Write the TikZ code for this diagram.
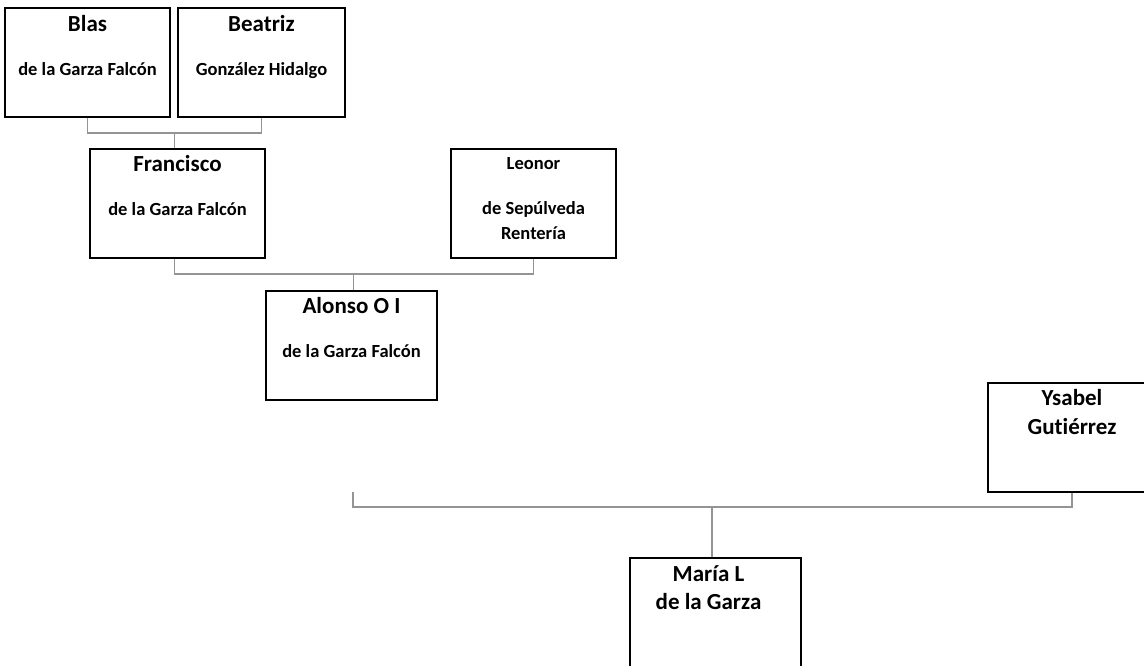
\documentclass[tikz,border=0pt]{standalone}
\usepackage{fontspec}
\setmainfont[Ligatures=NoCommon]{Carlito}
\usetikzlibrary{positioning,calc}

\begin{document}
\begin{tikzpicture}[x=1pt, y=-1pt,
  person/.style={draw, line width=1.6pt, minimum height=109pt, inner sep=0pt},
  link/.style={draw=black!42, line width=1.5pt},
  bigname/.style={anchor=base, font=\fontsize{23}{27}\selectfont\bfseries},
  smallname/.style={anchor=base, font=\fontsize{18.5}{22}\selectfont\bfseries}]
\useasboundingbox (0,0) rectangle (1144,666);

% boxes
\node[person, minimum width=165pt] (Blas) at (87.5,62.5) {};
\node[person, minimum width=167pt] (Beatriz) at (261.5,62.5) {};
\node[person, minimum width=175pt] (Francisco) at (177.5,203.5) {};
\node[person, minimum width=165pt] (Leonor) at (533.5,203.5) {};
\node[person, minimum width=171pt] (Alonso) at (351.5,345.5) {};
\node[person, minimum width=168pt] (Ysabel) at (1072,437.5) {};
\node[person, minimum width=171pt] (Maria) at (715.5,612.5) {};

% names
\node[bigname] (BlasA) at ([yshift=-24pt]Blas.north) {Blas};
\node[smallname] (BlasB) at ([yshift=-68pt]Blas.north) {de la Garza Falcón};
\node[bigname] (BeatrizA) at ([yshift=-24pt]Beatriz.north) {Beatriz};
\node[smallname] (BeatrizB) at ([yshift=-68pt]Beatriz.north) {González Hidalgo};
\node[bigname] (FranciscoA) at ([yshift=-23pt]Francisco.north) {Francisco};
\node[smallname] (FranciscoB) at ([yshift=-67pt]Francisco.north) {de la Garza Falcón};
\node[smallname] (LeonorA) at ([yshift=-21pt]Leonor.north) {Leonor};
\node[smallname] (LeonorB) at ([yshift=-66pt]Leonor.north) {de Sepúlveda};
\node[smallname] (LeonorC) at ([yshift=-91pt]Leonor.north) {Rentería};
\node[bigname] (AlonsoA) at ([yshift=-23pt]Alonso.north) {Alonso O I};
\node[smallname] (AlonsoB) at ([yshift=-67pt]Alonso.north) {de la Garza Falcón};
\node[bigname] (YsabelA) at ([yshift=-23pt]Ysabel.north) {Ysabel};
\node[bigname] (YsabelB) at ([yshift=-52pt]Ysabel.north) {Gut\kern0pt iérrez};
\node[bigname] (MariaA) at ([xshift=-7pt,yshift=-24pt]Maria.north) {María L};
\node[bigname] (MariaB) at ([xshift=-7pt,yshift=-52pt]Maria.north) {de la Garza};

% family links
\coordinate (Fam1) at (174.5,133);
\coordinate (Fam2) at (353.5,274);
\coordinate (Fam3) at (712,507);
\coordinate (AlonsoEnd) at (353,492);

\draw[link] (Blas.south) |- (Fam1) -| (Beatriz.south);
\draw[link] (Fam1) -- (Fam1 |- Francisco.north);
\draw[link] (Francisco.south -| Fam1) |- (Fam2) -| (Leonor.south);
\draw[link] (Fam2) -- (Fam2 |- Alonso.north);
\draw[link] (AlonsoEnd) |- (Fam3) -| (Ysabel.south);
\draw[link] (Fam3) -- (Fam3 |- Maria.north);

\end{tikzpicture}
\end{document}
